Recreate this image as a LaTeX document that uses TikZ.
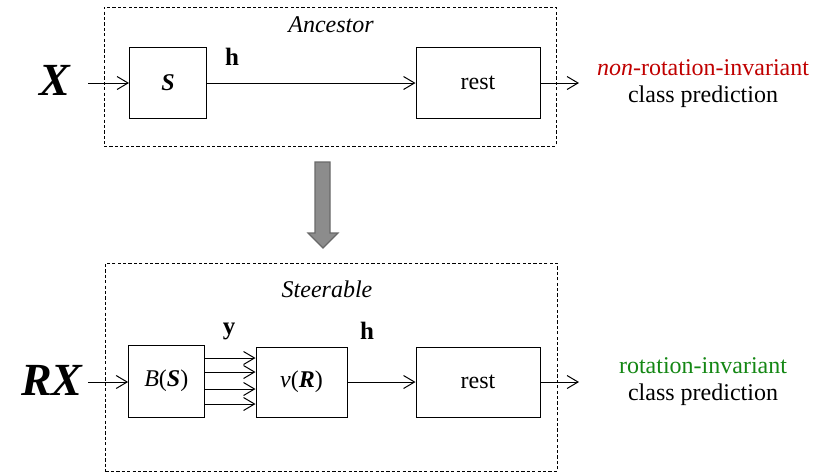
\documentclass[tikz,border=0pt]{standalone}
\usepackage{fontspec}
\setmainfont{Liberation Serif}
\usetikzlibrary{arrows.meta}
\definecolor{redtxt}{RGB}{192,0,0}
\definecolor{greentxt}{RGB}{20,135,20}
\definecolor{grayfill}{RGB}{140,140,140}
\definecolor{grayline}{RGB}{105,105,105}
\begin{document}
\begin{tikzpicture}[x=0.5pt,y=-0.5pt,
  blk/.style={draw, line width=0.5pt, inner sep=0pt, font=\fontsize{12}{14}\selectfont},
  conn/.style={-{Straight Barb[length=5.5pt,width=6.5pt,line width=0.5pt]}, line width=0.5pt},
  grp/.style={draw, dash pattern=on 1.6pt off 1.1pt, line width=0.5pt, inner sep=0pt},
  grplabel/.style={font=\fontsize{12}{14}\selectfont\itshape, inner sep=0pt},
  biglabel/.style={font=\fontsize{23}{25}\selectfont\bfseries\itshape, inner sep=0pt},
  vlabel/.style={font=\fontsize{12.5}{14}\selectfont\bfseries, inner sep=0pt},
  outtxt/.style={align=center, font=\fontsize{12}{13.5}\selectfont, inner sep=0pt}
]
\useasboundingbox (0,0) rectangle (830,473);

% ---------- Ancestor ----------
\node[grp, minimum width=226pt, minimum height=69.5pt] (anc) at (330,76.5) {};
\node[grplabel] (anclab) at (331,25) {Ancestor};
\node[biglabel] (X) at (55,80) {X};
\coordinate (xin) at (88,83);
\node[blk, minimum width=38.5pt, minimum height=35.5pt] (S) at (168,83) {\textbf{\textit{S}}};
\node[blk, minimum width=62pt, minimum height=35.5pt] (rest1) at (478,83) {rest};
\coordinate (out1) at (579,83);
\node[vlabel] (h1) at (232,57) {h};
\draw[conn] (xin) -- (S.west);
\draw[conn] (S.east) -- (rest1.west);
\draw[conn] (rest1.east) -- (out1);
\node[outtxt] (pred1) at (703,84) {{\color{redtxt}\textit{non}-rotation-invariant}\\class prediction};

% ---------- transition arrow ----------
\filldraw[fill=grayfill, draw=grayline, line width=0.6pt]
  (315,162) -- (330,162) -- (330,233) -- (338,233) -- (323,248) -- (308,233) -- (315,233) -- cycle;

% ---------- Steerable ----------
\node[grp, minimum width=225.75pt, minimum height=104.25pt] (ste) at (331.25,367.25) {};
\node[grplabel] (stelab) at (327,289) {Steerable};
\node[biglabel] (RX) at (52,380) {RX};
\coordinate (rxin) at (88,382);
\node[blk, minimum width=37.7pt, minimum height=36pt] (B) at (166.3,381) {\textit{B}(\textbf{\textit{S}})};
\node[blk, minimum width=45.5pt, minimum height=35pt] (V) at (301.5,382) {\textit{v}(\textbf{\textit{R}})};
\node[blk, minimum width=62pt, minimum height=35pt] (rest2) at (478,382) {rest};
\coordinate (out2) at (579,382);
\node[vlabel] (yl) at (229,331) {y};
\node[vlabel] (h2) at (367,331) {h};
\draw[conn] (rxin) -- (rxin -| B.west);
\foreach \yy in {358,372,389,404}
  \draw[conn] (B.east |- 0,\yy) -- (V.west |- 0,\yy);
\draw[conn] (V.east) -- (rest2.west);
\draw[conn] (rest2.east) -- (out2);
\node[outtxt] (pred2) at (703,382) {{\color{greentxt}rotation-invariant}\\class prediction};
\end{tikzpicture}
\end{document}
